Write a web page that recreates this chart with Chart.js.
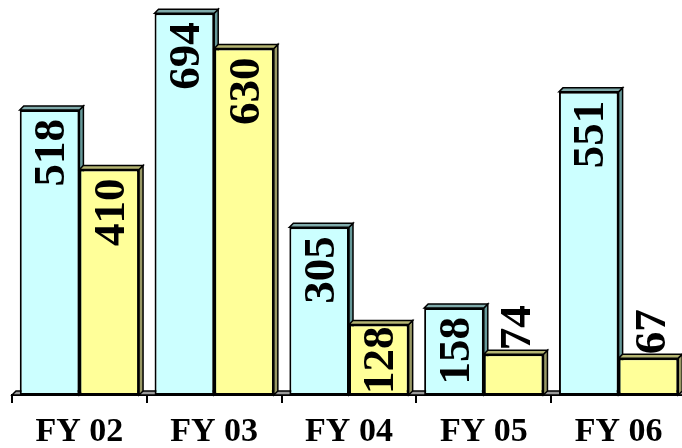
<!DOCTYPE html>
<html>
<head>
<meta charset="utf-8">
<script src="https://cdn.jsdelivr.net/npm/chart.js@4/dist/chart.umd.min.js"></script>
<style>
  html, body { margin: 0; padding: 0; background: #fff; overflow: hidden; }
  #wrap { position: relative; width: 690px; height: 448px; }
</style>
</head>
<body>
<div id="wrap"><canvas id="c" width="690" height="448"></canvas></div>
<script>
const categories = ['FY 02', 'FY 03', 'FY 04', 'FY 05', 'FY 06'];
const seriesA = [518, 694, 305, 158, 551];
const seriesB = [410, 630, 128, 74, 67];

const SERIF = '"Liberation Serif", "Times New Roman", serif';
const DEPTH = 4;
const faceColors = [
  { side: '#669999', top: '#7FAAAA' },
  { side: '#999966', top: '#B5B572' }
];

const depthPlugin = {
  id: 'depth3d',
  beforeDatasetsDraw(chart) {
    const ctx = chart.ctx;
    const area = chart.chartArea;
    const base = chart.scales.y.getPixelForValue(0);
    ctx.save();
    ctx.beginPath();
    ctx.moveTo(area.left, base);
    ctx.lineTo(area.left + DEPTH, base - DEPTH);
    ctx.lineTo(area.right + DEPTH, base - DEPTH);
    ctx.lineTo(area.right, base);
    ctx.closePath();
    ctx.fillStyle = '#9a9a9a';
    ctx.fill();
    ctx.lineWidth = 1.5;
    ctx.strokeStyle = '#000';
    ctx.stroke();
    chart.data.datasets.forEach((ds, di) => {
      const meta = chart.getDatasetMeta(di);
      meta.data.forEach(el => {
        const p = el.getProps(['x', 'y', 'base', 'width'], true);
        const l = p.x - p.width / 2, r = p.x + p.width / 2, t = p.y, b = p.base;
        ctx.lineWidth = 1.5;
        ctx.strokeStyle = '#000';
        ctx.beginPath();
        ctx.moveTo(r, t);
        ctx.lineTo(r + DEPTH, t - DEPTH);
        ctx.lineTo(r + DEPTH, b - DEPTH);
        ctx.lineTo(r, b);
        ctx.closePath();
        ctx.fillStyle = faceColors[di].side;
        ctx.fill();
        ctx.stroke();
        ctx.beginPath();
        ctx.moveTo(l, t);
        ctx.lineTo(l + DEPTH, t - DEPTH);
        ctx.lineTo(r + DEPTH, t - DEPTH);
        ctx.lineTo(r, t);
        ctx.closePath();
        ctx.fillStyle = faceColors[di].top;
        ctx.fill();
        ctx.stroke();
      });
    });
    ctx.restore();
  },
  afterDatasetsDraw(chart) {
    const ctx = chart.ctx;
    ctx.save();
    ctx.font = 'bold 45px ' + SERIF;
    ctx.fillStyle = '#000';
    ctx.textBaseline = 'middle';
    chart.data.datasets.forEach((ds, di) => {
      const meta = chart.getDatasetMeta(di);
      meta.data.forEach((el, i) => {
        const p = el.getProps(['x', 'y', 'base', 'width'], true);
        const txt = String(ds.data[i]);
        const len = ctx.measureText(txt).width;
        const h = p.base - p.y;
        const cx = p.x + 3;
        ctx.save();
        if (h >= len - 2) {
          const pad = Math.max(2, Math.min(9, (h - len) / 2));
          ctx.translate(cx, p.y + pad);
          ctx.rotate(-Math.PI / 2);
          ctx.textAlign = 'right';
        } else {
          ctx.translate(cx + 2, p.y - DEPTH);
          ctx.rotate(-Math.PI / 2);
          ctx.textAlign = 'left';
        }
        ctx.fillText(txt, 0, 0);
        ctx.restore();
      });
    });
    ctx.restore();
  }
};

new Chart(document.getElementById('c'), {
  type: 'bar',
  data: {
    labels: categories,
    datasets: [
      { data: seriesA, backgroundColor: '#CCFFFF', borderColor: '#000', borderWidth: 2, borderSkipped: false },
      { data: seriesB, backgroundColor: '#FFFF99', borderColor: '#000', borderWidth: 2, borderSkipped: false }
    ]
  },
  options: {
    responsive: false,
    devicePixelRatio: 1,
    animation: false,
    layout: { padding: { left: 12, right: 4, top: 0, bottom: -13 } },
    datasets: { bar: { barPercentage: 1, categoryPercentage: 0.885 } },
    plugins: { legend: { display: false }, tooltip: { enabled: false } },
    scales: {
      x: {
        grid: { drawOnChartArea: false, drawTicks: true, tickLength: 8, color: '#000', lineWidth: 2, offset: true },
        border: { display: true, color: '#000', width: 2 },
        ticks: { color: '#000', padding: 12, font: { family: SERIF, size: 34, weight: 'bold', lineHeight: 1 } }
      },
      y: { display: false, min: 0, max: 718 }
    }
  },
  plugins: [depthPlugin]
});
</script>
</body>
</html>
